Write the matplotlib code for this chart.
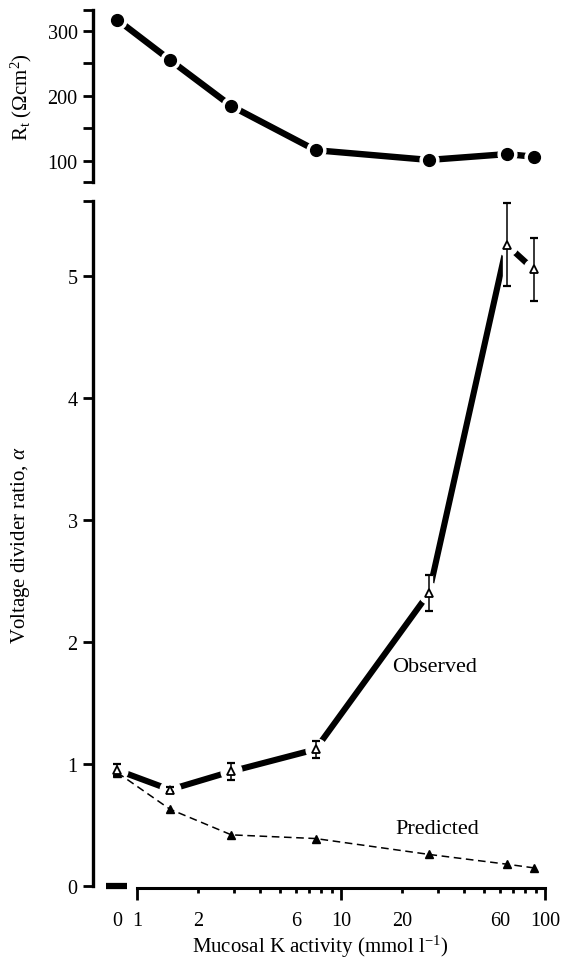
import matplotlib
matplotlib.use("Agg")
import matplotlib.pyplot as plt

plt.rcParams['font.family'] = ['Liberation Serif', 'DejaVu Serif']
plt.rcParams['mathtext.fontset'] = 'custom'
plt.rcParams['mathtext.rm'] = 'Liberation Serif'
plt.rcParams['mathtext.it'] = 'Liberation Serif:italic'

# mucosal K activity, mmol/l (0 = K-free, drawn on the broken part of the axis)
k_activity = [0, 1.45, 2.9, 7.5, 27, 65, 88]
resistance = [317, 255, 184, 116, 101, 110, 106]
alpha_observed = [0.95, 0.79, 0.94, 1.12, 2.40, 5.25, 5.05]
alpha_error = [0.05, 0.02, 0.07, 0.07, 0.15, 0.34, 0.26]
alpha_predicted = [0.93, 0.63, 0.42, 0.39, 0.26, 0.18, 0.15]

x_major = [1, 10, 100]
x_minor = [2, 3, 4, 5, 6, 7, 8, 9, 20, 30, 40, 50, 60, 70, 80, 90]
x_minor_labels = {2: '2', 6: '6', 20: '20', 60: '60'}

zero_pos = 0.80
xpos = [zero_pos if k == 0 else k for k in k_activity]

fig = plt.figure(figsize=(5.61, 9.62), dpi=100)
ax_top = fig.add_axes([93 / 561, 1 - 183 / 962, 455 / 561, 172 / 962])
ax = fig.add_axes([93 / 561, 1 - 889 / 962, 455 / 561, 687 / 962])

xlim = (0.608, 103.5)

# --- top panel: transepithelial resistance
ax_top.plot(xpos, resistance, color='k', lw=4.6, solid_capstyle='butt', zorder=2)
ax_top.plot(xpos, resistance, 'o', ms=13.5, color='white', zorder=3, clip_on=False)
ax_top.plot(xpos, resistance, 'o', ms=8.5, color='k', zorder=4, clip_on=False)
ax_top.set_xscale('log')
ax_top.set_xlim(xlim)
ax_top.set_ylim(67, 332)
ax_top.set_yticks([100, 200, 300])
ax_top.set_yticks([67, 150, 250, 332], minor=True)
ax_top.set_xticks([])
ax_top.set_xticks([], minor=True)
for s in ['top', 'right', 'bottom']:
    ax_top.spines[s].set_visible(False)
ax_top.spines['left'].set_linewidth(2.4)
ax_top.tick_params(axis='y', which='both', direction='out', length=7, width=2,
                   labelsize=14.5, pad=4)
ax_top.set_ylabel(r'R$_\mathrm{t}$ ($\Omega$cm$^2$)', fontsize=15)
ax_top.yaxis.set_label_coords(-0.13, 0.5)

# --- bottom panel: voltage divider ratio
ax.plot(xpos, alpha_observed, color='k', lw=4.4, solid_capstyle='butt', zorder=2)
ax.plot(xpos, alpha_observed, 'o', ms=15, color='white', zorder=3)
ax.errorbar(xpos, alpha_observed, yerr=alpha_error, fmt='none', ecolor='white',
            elinewidth=6, capsize=0, zorder=3.5)
ax.plot(xpos, alpha_predicted, color='k', lw=1.1, ls=(0, (5, 3)), zorder=4)
ax.plot(xpos, alpha_predicted, '^', ms=6, color='k', zorder=4.5)
ax.errorbar(xpos, alpha_observed, yerr=alpha_error, fmt='none', ecolor='k',
            elinewidth=1.1, capsize=2.6, capthick=1.6, zorder=5)
ax.plot(xpos, alpha_observed, '^', ms=6, mfc='white', mec='k', mew=1.3, zorder=6)

ax.set_xscale('log')
ax.set_xlim(xlim)
ax.set_ylim(-0.015, 5.61)

ax.set_yticks([0, 1, 2, 3, 4, 5])
ax.set_yticks([5.61], minor=True)
ax.tick_params(axis='y', which='both', direction='out', length=7, width=2,
               labelsize=14.5, pad=4)

ax.set_xticks([zero_pos] + x_major)
ax.set_xticklabels(['0'] + [str(v) for v in x_major])
ax.set_xticks(x_minor, minor=True)
ax.set_xticklabels([x_minor_labels.get(v, '') for v in x_minor], minor=True)
ax.tick_params(axis='x', which='major', direction='out', length=8.5, width=2,
               labelsize=14.5, pad=8)
ax.tick_params(axis='x', which='minor', direction='out', length=3.5, width=2,
               labelsize=14.5, pad=13)
ax.xaxis.get_major_ticks()[0].tick1line.set_visible(False)

for s in ['top', 'right']:
    ax.spines[s].set_visible(False)
ax.spines['left'].set_linewidth(2.4)
ax.spines['left'].set_bounds(0, 5.61)
ax.spines['bottom'].set_linewidth(2.2)
ax.spines['bottom'].set_bounds(1, 100)

# broken-axis bar for the zero point
ax.plot([zero_pos * 0.88, zero_pos * 1.115], [0, 0], color='k', lw=4.5,
        solid_capstyle='butt', clip_on=False, zorder=5)

ax.set_ylabel(r'Voltage divider ratio, $\alpha$', fontsize=15)
ax.yaxis.set_label_coords(-0.135, 0.5)
ax.set_xlabel(r'Mucosal K activity (mmol l$^{-1}$)', fontsize=15, labelpad=2)

ax.text(17.8, 1.80, 'Observed', fontsize=16, va='center', ha='left')
ax.text(18.4, 0.47, 'Predicted', fontsize=16, va='center', ha='left')

fig.savefig('out.png', dpi=100)
